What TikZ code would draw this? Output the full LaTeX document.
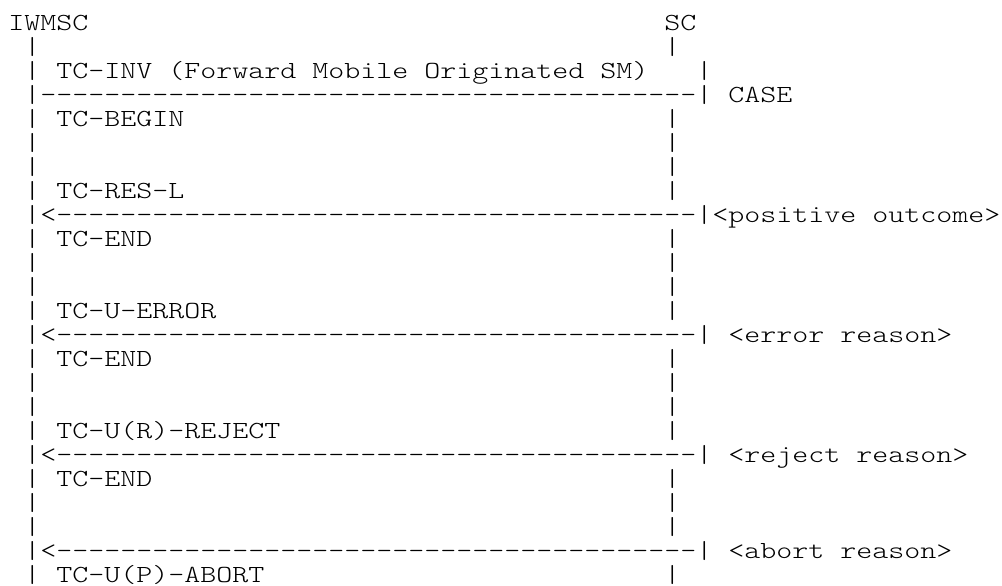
\documentclass[tikz,border=0pt]{standalone}
\usepackage{fontspec}
\newfontfamily\cour{Latin Modern Mono Light}[FakeStretch=1.242,Ligatures=TeXOff]
\ExplSyntaxOn
\cs_new:Npn \dsh #1 { \prg_replicate:nn {#1} {-} }
\ExplSyntaxOff
% #1 name, #2 column, #3 line, #4 text
\newcommand\tk[4]{\node[txt] (#1) at ({4.15+8*#2},{-3.25-12*#3}) {#4};}
\newcommand\stub[1]{\tk{sl#1}{1}{#1}{|}\tk{sr#1}{41}{#1}{|}}
\newcommand\msgline[2]{\tk{ml#1}{1}{#1}{|}\tk{mt#1}{3}{#1}{#2}\tk{mr#1}{41}{#1}{|}}
\newcommand\arrline[1]{\tk{ar#1}{1}{#1}{|<\dsh{40}|}}
\begin{document}
\begin{tikzpicture}[x=1pt,y=1pt,
  txt/.style={anchor=base west,inner sep=0pt,outer sep=0pt,text=black,
    font=\cour\fontsize{12.27}{12}\selectfont}]
\useasboundingbox (0,0) rectangle (501,-292.5);
% header
\tk{iwmsc}{0}{1}{IWMSC}
\tk{sc}{41}{1}{SC}
\stub{2}
% invoke
\tk{l3a}{1}{3}{|}
\tk{l3b}{3}{3}{TC-INV}
\tk{l3c}{10}{3}{(Forward}
\tk{l3d}{19}{3}{Mobile}
\tk{l3e}{26}{3}{Originated}
\tk{l3f}{37}{3}{SM)}
\tk{l3g}{43}{3}{|}
\tk{fwd}{1}{4}{|\dsh{41}|}
\tk{case}{45}{4}{CASE}
\msgline{5}{TC-BEGIN}
\stub{6}
\stub{7}
% positive outcome
\msgline{8}{TC-RES-L}
\arrline{9}
\tk{pos1}{44}{9}{<positive}
\tk{pos2}{54}{9}{outcome>}
\msgline{10}{TC-END}
\stub{11}
\stub{12}
% error
\msgline{13}{TC-U-ERROR}
\arrline{14}
\tk{err1}{45}{14}{<error}
\tk{err2}{52}{14}{reason>}
\msgline{15}{TC-END}
\stub{16}
\stub{17}
% reject
\msgline{18}{TC-U(R)-REJECT}
\arrline{19}
\tk{rej1}{45}{19}{<reject}
\tk{rej2}{53}{19}{reason>}
\msgline{20}{TC-END}
\stub{21}
\stub{22}
% abort
\arrline{23}
\tk{abt1}{45}{23}{<abort}
\tk{abt2}{52}{23}{reason>}
\msgline{24}{TC-U(P)-ABORT}
\end{tikzpicture}
\end{document}
